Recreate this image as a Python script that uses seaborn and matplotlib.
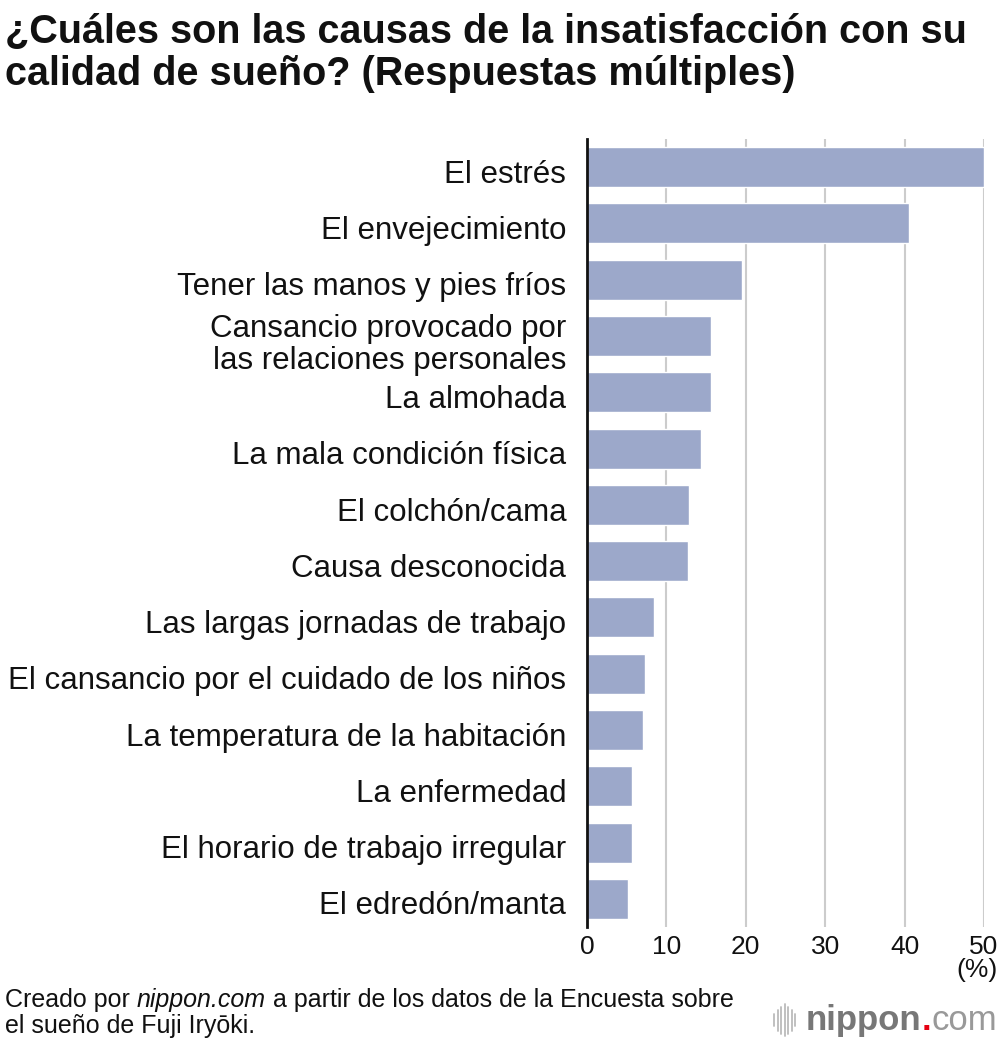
import pandas as pd
import seaborn as sns
import matplotlib.pyplot as plt
import matplotlib.transforms as mtransforms
from matplotlib.lines import Line2D

causes = [
    "El estrés",
    "El envejecimiento",
    "Tener las manos y pies fríos",
    "Cansancio provocado por\nlas relaciones personales",
    "La almohada",
    "La mala condición física",
    "El colchón/cama",
    "Causa desconocida",
    "Las largas jornadas de trabajo",
    "El cansancio por el cuidado de los niños",
    "La temperatura de la habitación",
    "La enfermedad",
    "El horario de trabajo irregular",
    "El edredón/manta",
]
percent = [50.0, 40.6, 19.5, 15.6, 15.6, 14.4, 12.9, 12.7, 8.4, 7.3, 7.1, 5.7, 5.7, 5.2]
x_ticks = [0, 10, 20, 30, 40, 50]

df = pd.DataFrame({"cause": causes, "percent": percent})

sns.set_style("white")
plt.rcParams["font.family"] = ["Liberation Sans", "DejaVu Sans"]

fig = plt.figure(figsize=(10, 10.42), dpi=100)
ax = fig.add_axes([0.587, 0.1104, 0.397, 0.7562])

sns.barplot(data=df, x="percent", y="cause", color="#9ca8ca", saturation=1,
            width=0.71, orient="h", ax=ax, zorder=3)

ax.set_xlim(0, 50)
ax.set_ylim(len(causes) - 0.5, -0.5)
ax.set_xticks(x_ticks)
ax.set_xticklabels([str(t) for t in x_ticks])
ax.grid(axis="x", color="#cccccc", linewidth=1.5, zorder=0)
ax.grid(axis="y", visible=False)
ax.set_axisbelow(True)
for s in ["top", "right", "bottom"]:
    ax.spines[s].set_visible(False)
ax.spines["left"].set_color("#111111")
ax.spines["left"].set_linewidth(2)
ax.spines["left"].set_zorder(4)
ax.tick_params(axis="y", length=0, pad=15, labelsize=22.5, labelcolor="#111111")
ax.tick_params(axis="x", length=0, pad=6, labelsize=19, labelcolor="#111111")
# nudge category labels slightly down, like the original
shift = mtransforms.ScaledTranslation(0, -3 / 72, fig.dpi_scale_trans)
for lab in ax.get_yticklabels():
    lab.set_linespacing(1.1)
    lab.set_transform(lab.get_transform() + shift)
ax.set_xlabel("")
ax.set_ylabel("")

fig.text(0.998, 0.069, "(%)", ha="right", va="center", fontsize=19, color="#111111")

fig.text(0.005, 0.988, "¿Cuáles son las causas de la insatisfacción con su\ncalidad de sueño? (Respuestas múltiples)",
         ha="left", va="top", fontsize=28.5, fontweight="bold", color="#111111", linespacing=1.15)

# footer with italic site name
t1 = fig.text(0.005, 0.040, "Creado por ", ha="left", va="center", fontsize=18, color="#111111")
fig.canvas.draw()
x2 = t1.get_window_extent().x1 / fig.bbox.width
t2 = fig.text(x2, 0.040, "nippon.com", ha="left", va="center", fontsize=18, style="italic", color="#111111")
fig.canvas.draw()
x3 = t2.get_window_extent().x1 / fig.bbox.width
fig.text(x3, 0.040, " a partir de los datos de la Encuesta sobre", ha="left", va="center", fontsize=18, color="#111111")
fig.text(0.005, 0.015, "el sueño de Fuji Iryōki.", ha="left", va="center", fontsize=18, color="#111111")

# logo
lx = 0.774
for i, h in enumerate([0.012, 0.020, 0.026, 0.030, 0.026, 0.020, 0.012]):
    x = lx + i * 0.0035
    fig.add_artist(Line2D([x, x], [0.021 - h / 2, 0.021 + h / 2], color="#bbbbbb", lw=1.3))
n1 = fig.text(0.806, 0.021, "nippon", ha="left", va="center", fontsize=25, fontweight="bold", color="#777777")
fig.canvas.draw()
xa = n1.get_window_extent().x1 / fig.bbox.width
n2 = fig.text(xa, 0.021, ".", ha="left", va="center", fontsize=25, fontweight="bold", color="#e60012")
fig.canvas.draw()
xb = n2.get_window_extent().x1 / fig.bbox.width
fig.text(xb, 0.021, "com", ha="left", va="center", fontsize=25, color="#999999")

plt.savefig("out.png", dpi=100)
